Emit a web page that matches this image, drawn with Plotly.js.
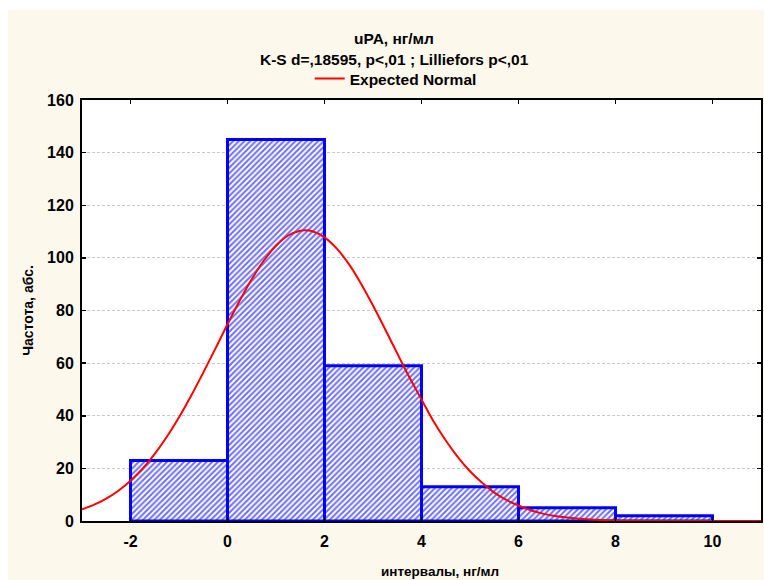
<!DOCTYPE html>
<html>
<head>
<meta charset="utf-8">
<script src="https://cdn.plot.ly/plotly-3.0.1.min.js"></script>
<style>
  html, body { margin: 0; padding: 0; background: #ffffff; }
  #chart { position: absolute; left: 8px; top: 10px; width: 756px; height: 570px; }
</style>
</head>
<body>
<div id="chart"></div>
<script>
// Histogram bins (interval centers) and observed counts
const binCenters = [-1, 1, 3, 5, 7, 9];
const binCounts = [23, 145, 59, 13, 5, 2];

// Expected normal curve
const curveX = [-3, -2.75, -2.5, -2.25, -2, -1.75, -1.5, -1.25, -1, -0.75, -0.5, -0.25,
  0, 0.25, 0.5, 0.75, 1, 1.25, 1.5, 1.6, 1.75, 2, 2.25, 2.5, 2.75, 3, 3.25, 3.5, 3.75,
  4, 4.25, 4.5, 4.75, 5, 5.25, 5.5, 5.75, 6, 6.25, 6.5, 6.75, 7, 7.5, 8, 8.5, 9, 9.5, 10, 11];
const curveY = [4.4, 6.2, 8.5, 11.5, 15.3, 19.9, 25.5, 32.0, 39.4, 47.6, 56.4, 65.5,
  74.8, 83.7, 91.9, 99.0, 104.6, 108.5, 110.3, 110.5, 110.1, 107.8, 103.6, 97.7, 90.3, 81.9, 72.9, 63.7, 54.6,
  46.2, 37.8, 30.6, 24.3, 18.9, 14.5, 10.8, 8.0, 5.9, 4.1, 2.8, 1.9, 1.3, 0.54, 0.21, 0.08, 0.03, 0.01, 0.0, 0.0];

const xTicks = [-2, 0, 2, 4, 6, 8, 10];
const yTicks = [0, 20, 40, 60, 80, 100, 120, 140, 160];

const titleText = 'uPA, нг/мл';
const subtitleText = 'K-S d=,18595, p<,01 ; Lilliefors p<,01';
const xTitle = 'интервалы, нг/мл';
const yTitle = 'Частота, абс.';
const curveName = 'Expected Normal';

const FONT = 'Liberation Sans, Arial, sans-serif';

const traces = [
  {
    type: 'bar',
    x: binCenters,
    y: binCounts,
    width: 2,
    showlegend: false,
    hoverinfo: 'x+y',
    marker: {
      color: '#ffffff',
      line: { color: '#0000ff', width: 3 },
      pattern: { shape: '/', fgcolor: '#6e6eff', bgcolor: '#ffffff', size: 4, solidity: 0.5 }
    }
  },
  {
    type: 'scatter',
    mode: 'lines',
    x: curveX,
    y: curveY,
    name: curveName,
    line: { color: '#ff0000', width: 2, shape: 'spline' }
  }
];

const layout = {
  width: 756,
  height: 570,
  margin: { l: 74, r: 3, t: 90, b: 59 },
  paper_bgcolor: '#fdf8ec',
  plot_bgcolor: '#ffffff',
  font: { family: FONT, color: '#000000', size: 14 },
  bargap: 0,
  showlegend: true,
  legend: {
    orientation: 'h',
    x: 0.462, xanchor: 'center',
    y: 1.05, yanchor: 'middle',
    bgcolor: 'rgba(0,0,0,0)',
    font: { family: FONT, size: 15.5, color: '#000', weight: 'bold' },
    itemwidth: 30
  },
  xaxis: {
    range: [-3, 11],
    tickvals: xTicks,
    ticktext: xTicks.map(String),
    showgrid: false,
    zeroline: false,
    showline: true,
    linecolor: '#000000',
    linewidth: 2,
    mirror: 'ticks',
    ticks: 'inside',
    ticklen: 4,
    tickwidth: 1.5,
    tickcolor: '#000000',
    ticklabelstandoff: 5,
    tickfont: { family: FONT, size: 16, weight: 'bold' },
    automargin: false
  },
  yaxis: {
    range: [0, 160],
    tickvals: yTicks,
    ticktext: yTicks.map(String),
    showgrid: true,
    gridcolor: '#c8c8c8',
    griddash: '3px,2px',
    gridwidth: 1,
    zeroline: false,
    showline: true,
    linecolor: '#000000',
    linewidth: 2,
    mirror: 'ticks',
    ticks: 'inside',
    ticklen: 4,
    tickwidth: 1.5,
    tickcolor: '#000000',
    ticklabelstandoff: 3,
    tickfont: { family: FONT, size: 16, weight: 'bold' },
    automargin: false,
    title: { text: yTitle, standoff: 10, font: { family: FONT, size: 14, weight: 'bold' } }
  },
  annotations: [
    {
      text: titleText, xref: 'paper', yref: 'paper', x: 0.46, y: 1.145,
      xanchor: 'center', yanchor: 'middle', showarrow: false,
      font: { family: FONT, size: 15.5, weight: 'bold' }
    },
    {
      text: subtitleText, xref: 'paper', yref: 'paper', x: 0.46, y: 1.097,
      xanchor: 'center', yanchor: 'middle', showarrow: false,
      font: { family: FONT, size: 15.5, weight: 'bold' }
    },
    {
      text: xTitle, xref: 'paper', yref: 'paper', x: 0.527, y: -0.121,
      xanchor: 'center', yanchor: 'middle', showarrow: false,
      font: { family: FONT, size: 13.5, weight: 'bold' }
    }
  ]
};

Plotly.newPlot('chart', traces, layout, { displayModeBar: false, staticPlot: true });
</script>
</body>
</html>
